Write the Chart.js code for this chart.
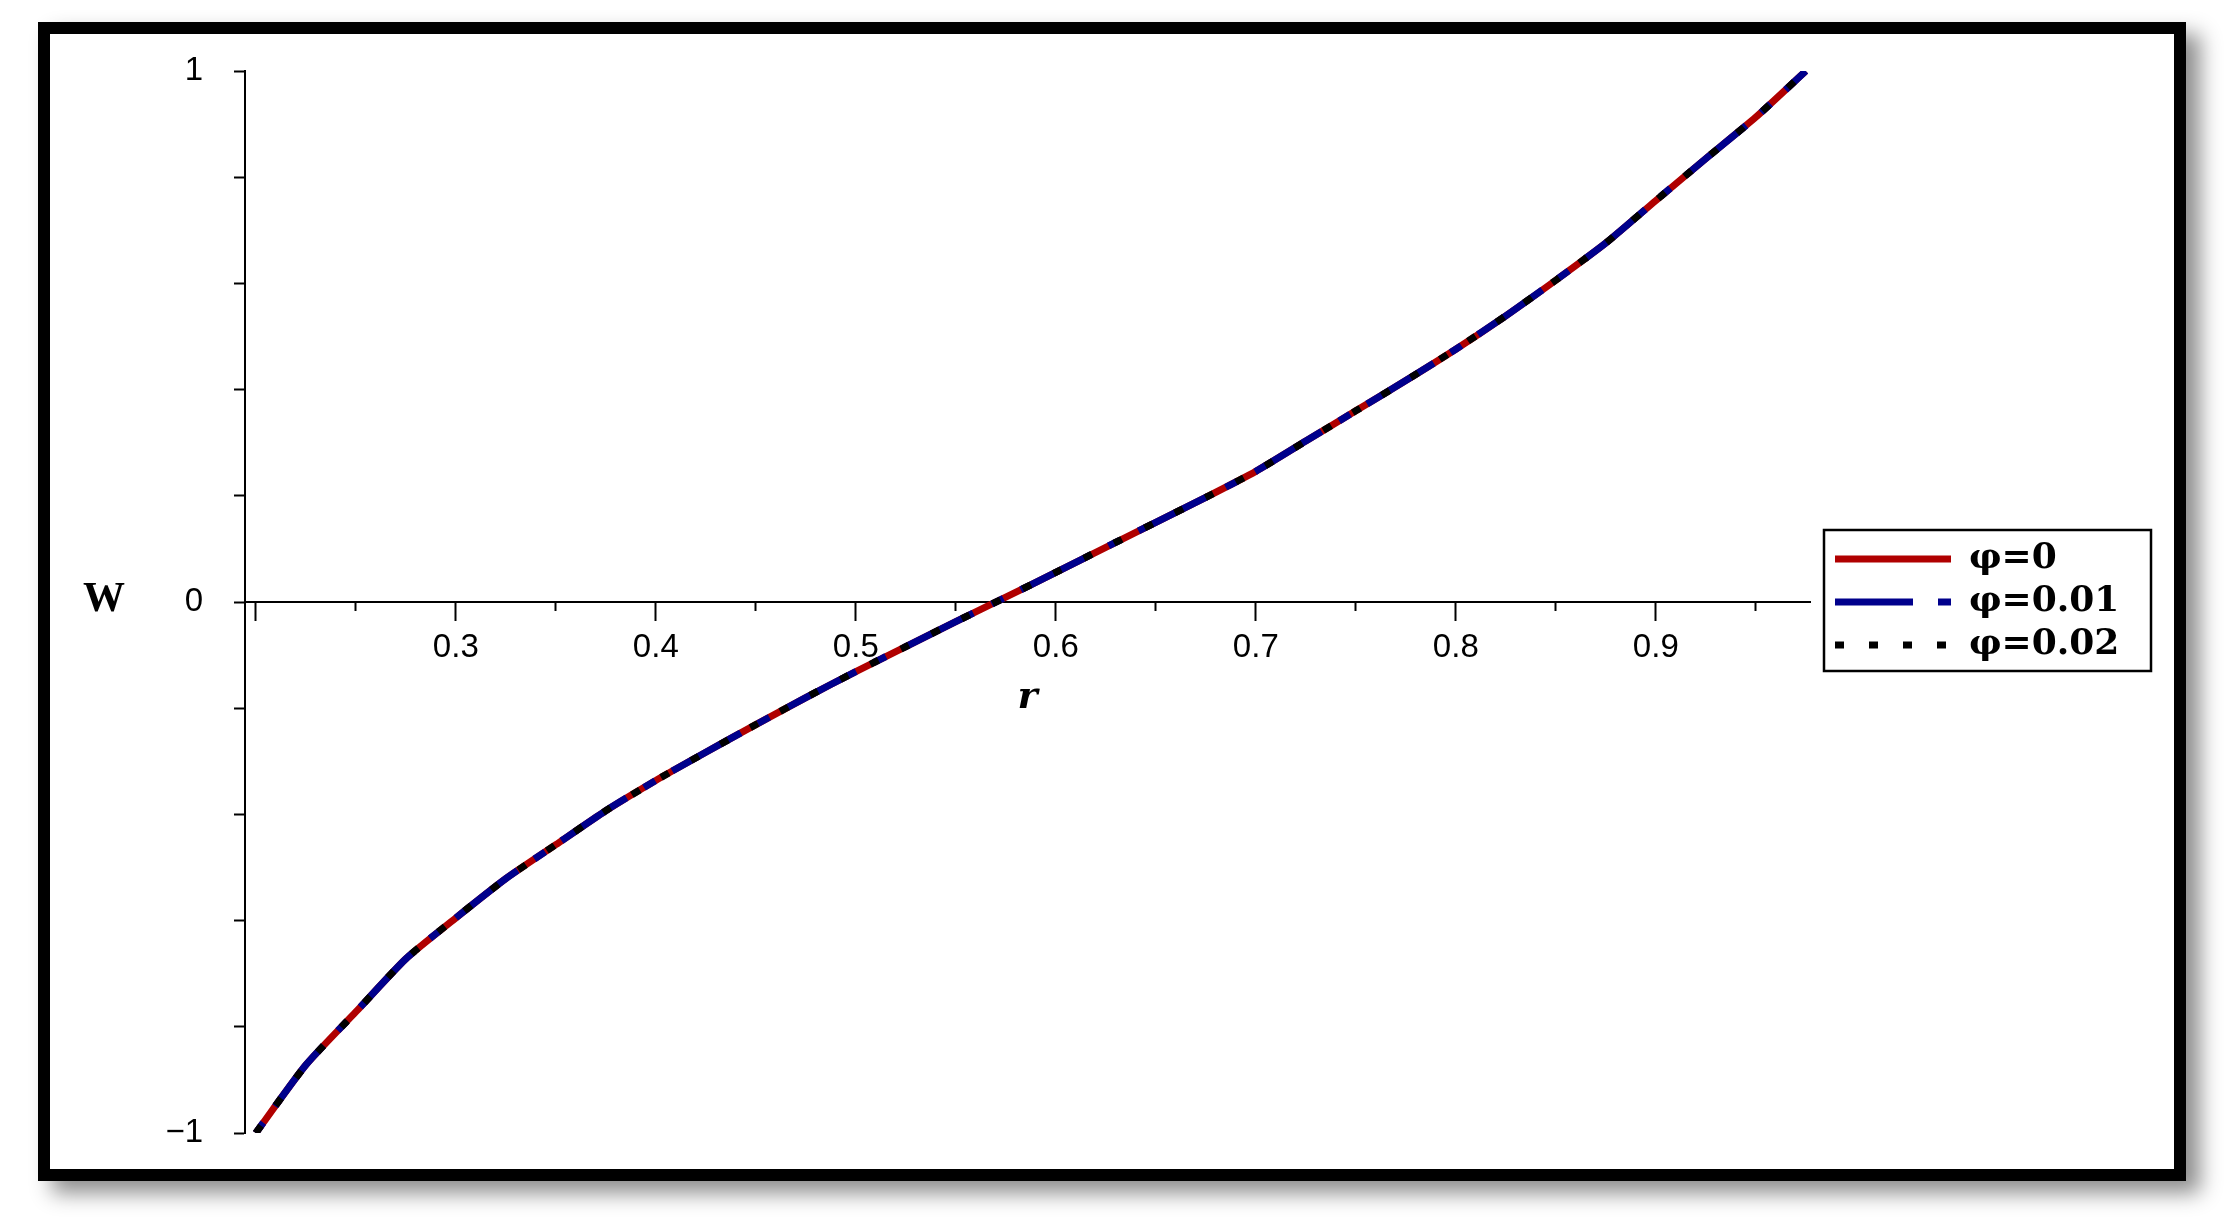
<!DOCTYPE html>
<html>
<head>
<meta charset="utf-8">
<script src="https://cdn.jsdelivr.net/npm/chart.js@4.4.1/dist/chart.umd.min.js"></script>
<style>
html, body { margin: 0; padding: 0; background: #fff; }
body { width: 2239px; height: 1227px; position: relative; overflow: hidden; }
#frame {
    position: absolute; left: 38px; top: 22px;
    width: 2148px; height: 1159px; box-sizing: border-box;
    border: 12px solid #000; background: #fff;
    box-shadow: 14px 12px 20px rgba(0, 0, 0, 0.45);
}
#wrap { position: relative; width: 2124px; height: 1135px; }
</style>
</head>
<body>
<div id="frame"><div id="wrap"><canvas id="myChart"></canvas></div></div>
<script>
const rValues = [0.2, 0.225, 0.25, 0.275, 0.3, 0.325, 0.35, 0.375, 0.4, 0.425, 0.45, 0.475,
    0.5, 0.525, 0.55, 0.575, 0.6, 0.625, 0.65, 0.675, 0.7, 0.725, 0.75, 0.775,
    0.8, 0.825, 0.85, 0.875, 0.9, 0.925, 0.95, 0.975];

// the three curves lie on top of each other in the picture
const wPhi0 = [-1.0, -0.872, -0.772, -0.672, -0.595, -0.521, -0.457, -0.393, -0.336, -0.283, -0.231, -0.180,
    -0.131, -0.084, -0.037, 0.009, 0.056, 0.103, 0.150, 0.197, 0.246, 0.303, 0.360, 0.417,
    0.476, 0.539, 0.606, 0.676, 0.756, 0.835, 0.913, 1.0];
const wPhi001 = [-1.0, -0.872, -0.772, -0.672, -0.595, -0.521, -0.457, -0.393, -0.336, -0.283, -0.231, -0.180,
    -0.131, -0.084, -0.037, 0.009, 0.056, 0.103, 0.150, 0.197, 0.246, 0.303, 0.360, 0.417,
    0.476, 0.539, 0.606, 0.676, 0.756, 0.835, 0.913, 1.0];
const wPhi002 = [-1.0, -0.872, -0.772, -0.672, -0.595, -0.521, -0.457, -0.393, -0.336, -0.283, -0.231, -0.180,
    -0.131, -0.084, -0.037, 0.009, 0.056, 0.103, 0.150, 0.197, 0.246, 0.303, 0.360, 0.417,
    0.476, 0.539, 0.606, 0.676, 0.756, 0.835, 0.913, 1.0];

const seriesLabels = ['φ=0', 'φ=0.01', 'φ=0.02'];

const xMajorTicks = [0.2, 0.3, 0.4, 0.5, 0.6, 0.7, 0.8, 0.9];
const xTickLabels = ['', '0.3', '0.4', '0.5', '0.6', '0.7', '0.8', '0.9'];
const xMinorTicks = [0.25, 0.35, 0.45, 0.55, 0.65, 0.75, 0.85, 0.95];
const yTicks = [-1, -0.8, -0.6, -0.4, -0.2, 0, 0.2, 0.4, 0.6, 0.8, 1];
const yTickLabels = ['\u22121', '', '', '', '', '0', '', '', '', '', '1'];

const toPoints = ws => rValues.map((r, i) => ({ x: r, y: ws[i] }));

const tickFont = { family: 'Liberation Sans', size: 33 };
// legend samples: long dash first, as in the key of the original
const legendDash = [[], [78, 25, 13, 25], [9, 25]];

const extraText = {
    id: 'extraText',
    afterDraw(chart) {
        const ctx = chart.ctx;
        const y0 = chart.scales.y.getPixelForValue(0);
        ctx.save();
        ctx.fillStyle = '#000';
        ctx.font = 'bold 42px "Liberation Serif"';
        ctx.textAlign = 'center';
        ctx.textBaseline = 'middle';
        ctx.fillText('W', 54, y0 - 2);

        // box round the legend
        const hb = chart.legend.legendHitBoxes;
        const first = hb[0], last = hb[hb.length - 1];
        const top = first.top - 11;
        ctx.lineWidth = 2.5;
        ctx.strokeStyle = '#000';
        ctx.strokeRect(first.left - 11, top, 327, last.top + last.height + 8 - top);
        ctx.restore();
    }
};

const data = {
    datasets: [
        {
            label: seriesLabels[0],
            data: toPoints(wPhi0),
            borderColor: '#b00000',
            backgroundColor: '#b00000',
            borderWidth: 7,
            order: 3
        },
        {
            label: seriesLabels[1],
            data: toPoints(wPhi001),
            borderColor: '#00008c',
            backgroundColor: '#00008c',
            borderWidth: 7,
            borderDash: [13, 20, 78, 20],
            order: 2
        },
        {
            label: seriesLabels[2],
            data: toPoints(wPhi002),
            borderColor: '#000',
            backgroundColor: '#000',
            borderWidth: 7,
            borderDash: [9, 25],
            order: 1
        }
    ]
};

const config = {
    type: 'line',
    data: data,
    options: {
        responsive: true,
        maintainAspectRatio: false,
        animation: false,
        devicePixelRatio: 1,
        layout: { padding: { left: 0, top: 37, right: 56, bottom: 36 } },
        elements: {
            point: { radius: 0 },
            line: { tension: 0.2, fill: false }
        },
        plugins: {
            tooltip: { enabled: false },
            legend: {
                position: 'right',
                maxWidth: 290,
                labels: {
                    usePointStyle: true,
                    pointStyle: 'line',
                    pointStyleWidth: 116,
                    padding: 7,
                    color: '#000',
                    font: { family: 'DejaVu Serif', size: 36, weight: 'bold' },
                    sort: (a, b) => a.datasetIndex - b.datasetIndex,
                    generateLabels: chart => {
                        const items = Chart.defaults.plugins.legend.labels.generateLabels(chart);
                        items.forEach(it => {
                            const ds = chart.data.datasets[it.datasetIndex];
                            it.lineDash = legendDash[it.datasetIndex];
                            it.lineWidth = ds.borderWidth;
                            it.strokeStyle = ds.borderColor;
                        });
                        return items;
                    }
                }
            }
        },
        scales: {
            x: {
                type: 'linear',
                min: 0.1946,
                max: 0.9771,
                position: { y: 0 },
                afterBuildTicks: s => { s.ticks = xMajorTicks.map(v => ({ value: v })); },
                ticks: {
                    autoSkip: false,
                    maxRotation: 0,
                    padding: 8,
                    color: '#000',
                    font: tickFont,
                    callback: (v, i) => xTickLabels[i]
                },
                grid: { display: true, drawOnChartArea: false, tickLength: 18, tickWidth: 2, tickColor: '#000' },
                border: { display: true, color: '#000', width: 2 },
                title: {
                    display: true,
                    text: 'r',
                    color: '#000',
                    font: { family: 'DejaVu Serif', size: 38, weight: 'bold', style: 'italic' },
                    padding: { top: 0, bottom: 0 }
                }
            },
            x2: {
                type: 'linear',
                min: 0.1946,
                max: 0.9771,
                position: { y: 0 },
                afterBuildTicks: s => { s.ticks = xMinorTicks.map(v => ({ value: v })); },
                ticks: { display: false },
                grid: { display: true, drawOnChartArea: false, tickLength: 9, tickWidth: 2, tickColor: '#000' },
                border: { display: false }
            },
            y: {
                type: 'linear',
                min: -1,
                max: 1,
                position: 'left',
                afterBuildTicks: s => { s.ticks = yTicks.map(v => ({ value: v })); },
                afterFit: s => {
                    s.width = 195;
                    s.paddingTop = 20;
                    s.paddingBottom = 20;
                },
                ticks: {
                    autoSkip: false,
                    padding: 31,
                    color: '#000',
                    font: tickFont,
                    callback: (v, i) => yTickLabels[i]
                },
                grid: { display: true, drawOnChartArea: false, tickLength: 11, tickWidth: 2, tickColor: '#000' },
                border: { display: true, color: '#000', width: 2 }
            },
            // empty spacer between plot and legend
            y2: {
                type: 'linear',
                min: 0,
                max: 1,
                position: 'right',
                afterFit: s => { s.width = 18; },
                ticks: { display: false },
                grid: { display: false },
                border: { display: false }
            }
        }
    },
    plugins: [extraText]
};

const myChart = new Chart(document.getElementById('myChart'), config);
</script>
</body>
</html>
